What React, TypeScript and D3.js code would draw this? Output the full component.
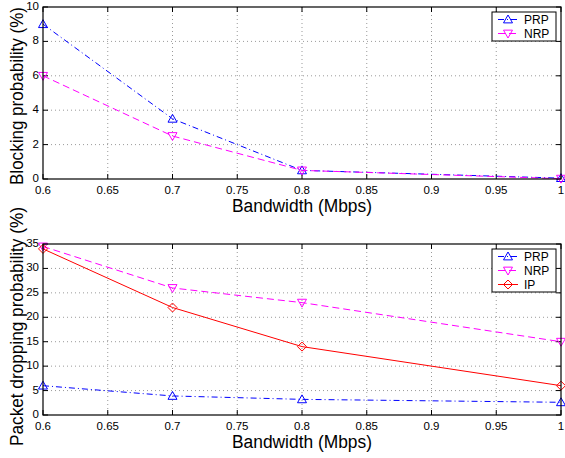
import React, { useEffect, useRef } from "react";
import * as d3 from "d3";

// data
const bandwidth = [0.6, 0.7, 0.8, 1.0];
const blockPRP = [9, 3.5, 0.5, 0.05];
const blockNRP = [6, 2.5, 0.5, 0.02];
const dropPRP = [6, 3.9, 3.2, 2.6];
const dropNRP = [34.5, 26, 23, 15];
const dropIP = [34, 22, 14, 6];
const xTicks = [0.6, 0.65, 0.7, 0.75, 0.8, 0.85, 0.9, 0.95, 1];
const blockTicks = [0, 2, 4, 6, 8, 10];
const dropTicks = [0, 5, 10, 15, 20, 25, 30, 35];

const font = "Liberation Sans, Arial, Helvetica, sans-serif";

type Series = { name: string; values: number[]; color: string; dash: string; marker: string };

export default function App() {
  const ref = useRef<SVGSVGElement>(null);

  useEffect(() => {
    const svg = d3.select(ref.current);
    svg.selectAll("*").remove();

    const drawMarker = (g: any, kind: string, x: number, y: number, color: string) => {
      const r = 4.5;
      let pts: number[][] = [];
      if (kind === "up") pts = [[x, y - r], [x + r, y + r * 0.75], [x - r, y + r * 0.75]];
      else if (kind === "down") pts = [[x, y + r], [x + r, y - r * 0.75], [x - r, y - r * 0.75]];
      else pts = [[x, y - r], [x + r, y], [x, y + r], [x - r, y]];
      g.append("polygon")
        .attr("points", pts.map((p) => p.join(",")).join(" "))
        .attr("fill", "none")
        .attr("stroke", color)
        .attr("stroke-width", 1);
    };

    const panel = (
      top: number,
      bottom: number,
      yMax: number,
      yTicks: number[],
      ylabel: string,
      ylabelLen: number,
      ylabelMid: number,
      series: Series[]
    ) => {
      const left = 43, right = 561;
      const x = d3.scaleLinear().domain([0.6, 1]).range([left, right]);
      const y = d3.scaleLinear().domain([0, yMax]).range([bottom, top]);
      const g = svg.append("g");

      // grid
      g.selectAll(".gx").data(xTicks.slice(1, -1)).enter().append("line")
        .attr("x1", (d) => x(d)).attr("x2", (d) => x(d))
        .attr("y1", top).attr("y2", bottom)
        .attr("stroke", "#555").attr("stroke-width", 0.6).attr("stroke-dasharray", "1,3");
      g.selectAll(".gy").data(yTicks.slice(1, -1)).enter().append("line")
        .attr("y1", (d) => y(d)).attr("y2", (d) => y(d))
        .attr("x1", left).attr("x2", right)
        .attr("stroke", "#555").attr("stroke-width", 0.6).attr("stroke-dasharray", "1,3");

      // ticks inward
      xTicks.forEach((t) => {
        g.append("line").attr("x1", x(t)).attr("x2", x(t)).attr("y1", bottom).attr("y2", bottom - 5).attr("stroke", "#000");
        g.append("line").attr("x1", x(t)).attr("x2", x(t)).attr("y1", top).attr("y2", top + 5).attr("stroke", "#000");
        g.append("text").attr("x", x(t)).attr("y", bottom + 14.5)
          .attr("text-anchor", "middle").attr("font-size", 11.5).attr("font-family", font).text(String(t));
      });
      yTicks.forEach((t) => {
        g.append("line").attr("x1", left).attr("x2", left + 5).attr("y1", y(t)).attr("y2", y(t)).attr("stroke", "#000");
        g.append("line").attr("x1", right).attr("x2", right - 5).attr("y1", y(t)).attr("y2", y(t)).attr("stroke", "#000");
        g.append("text").attr("x", left - 4).attr("y", y(t) + 3)
          .attr("text-anchor", "end").attr("font-size", 11.5).attr("font-family", font).text(String(t));
      });

      // series
      const line = d3.line<number>().x((_, i) => x(bandwidth[i])).y((d) => y(d));
      series.forEach((s) => {
        g.append("path").attr("d", line(s.values)!)
          .attr("fill", "none").attr("stroke", s.color).attr("stroke-width", 1)
          .attr("stroke-dasharray", s.dash);
        s.values.forEach((v, i) => drawMarker(g, s.marker, x(bandwidth[i]), y(v), s.color));
      });

      // box
      g.append("rect").attr("x", left).attr("y", top).attr("width", right - left).attr("height", bottom - top)
        .attr("fill", "none").attr("stroke", "#000").attr("stroke-width", 1.2);

      // legend
      const lx = 492, ly = top + 5;
      g.append("rect").attr("x", lx).attr("y", ly).attr("width", 64).attr("height", 14 * series.length + 1)
        .attr("fill", "#fff").attr("stroke", "#000").attr("stroke-width", 1);
      series.forEach((s, i) => {
        const cy = ly + 7.5 + i * 14;
        g.append("line").attr("x1", lx + 6).attr("x2", lx + 26).attr("y1", cy).attr("y2", cy)
          .attr("stroke", s.color).attr("stroke-dasharray", s.dash);
        drawMarker(g, s.marker, lx + 16, cy, s.color);
        g.append("text").attr("x", lx + 32).attr("y", cy + 4.5)
          .attr("font-size", 12).attr("font-family", font).text(s.name);
      });

      // labels
      g.append("text").attr("x", 302).attr("y", bottom + 33)
        .attr("text-anchor", "middle").attr("font-size", 18).attr("font-family", font)
        .attr("textLength", 140).attr("lengthAdjust", "spacingAndGlyphs").text("Bandwidth (Mbps)");
      g.append("text")
        .attr("transform", `translate(23,${ylabelMid}) rotate(-90)`)
        .attr("text-anchor", "middle").attr("font-size", 18).attr("font-family", font)
        .attr("textLength", ylabelLen).attr("lengthAdjust", "spacingAndGlyphs").text(ylabel);
    };

    const prp = { name: "PRP", color: "#0000ff", dash: "6,3,1,3", marker: "up" };
    const nrp = { name: "NRP", color: "#ff00ff", dash: "7,4", marker: "down" };
    const ip = { name: "IP", color: "#ff0000", dash: "none", marker: "diamond" };

    panel(7, 179, 10, blockTicks, "Blocking probability (%)", 178, 96,
      [{ ...prp, values: blockPRP }, { ...nrp, values: blockNRP }]);
    panel(244, 415, 35, dropTicks, "Packet dropping probability (%)", 239, 326.5,
      [{ ...prp, values: dropPRP }, { ...nrp, values: dropNRP }, { ...ip, values: dropIP }]);
  }, []);

  return (
    <svg ref={ref} width={565} height={458} style={{ position: "absolute", left: 0, top: 0, background: "#fff" }} />
  );
}
